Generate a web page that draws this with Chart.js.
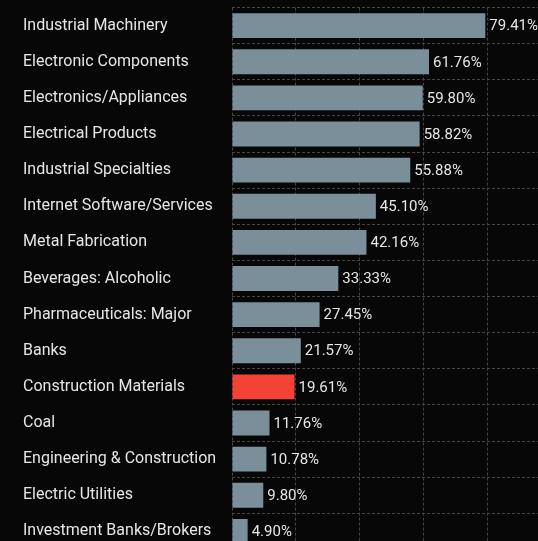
<!DOCTYPE html>
<html>
<head>
<meta charset="utf-8">
<script src="https://cdn.jsdelivr.net/npm/chart.js@4.4.1/dist/chart.umd.min.js"></script>
<style>
  html, body { margin: 0; padding: 0; background: #070707; overflow: hidden; width: 538px; height: 541px; }
  #wrap { position: absolute; left: 0; top: -2px; width: 551px; height: 561px; }
</style>
</head>
<body>
<div id="wrap"><canvas id="c" width="551" height="561"></canvas></div>
<script>
const categories = [
  "Industrial Machinery",
  "Electronic Components",
  "Electronics/Appliances",
  "Electrical Products",
  "Industrial Specialties",
  "Internet Software/Services",
  "Metal Fabrication",
  "Beverages: Alcoholic",
  "Pharmaceuticals: Major",
  "Banks",
  "Construction Materials",
  "Coal",
  "Engineering & Construction",
  "Electric Utilities",
  "Investment Banks/Brokers"
];
const values = [79.41, 61.76, 59.80, 58.82, 55.88, 45.10, 42.16, 33.33, 27.45, 21.57, 19.61, 11.76, 10.78, 9.80, 4.90];
const highlighted = ["Construction Materials"];
const xTicks = [0, 20, 40, 60, 80, 100];

const FONT = "Roboto, 'DejaVu Sans', sans-serif";
const barColors = categories.map(c => highlighted.includes(c) ? "#f44336" : "#7b8f9a");

const valueLabels = {
  id: "valueLabels",
  afterDatasetsDraw(chart) {
    const ctx = chart.ctx;
    const meta = chart.getDatasetMeta(0);
    ctx.save();
    ctx.font = "15px " + FONT;
    ctx.fillStyle = "#e6e6e6";
    ctx.textAlign = "left";
    ctx.textBaseline = "middle";
    meta.data.forEach((bar, i) => {
      ctx.fillText(values[i].toFixed(2) + "%", bar.x + 4, bar.y + 1);
    });
    ctx.restore();
  }
};

new Chart(document.getElementById("c"), {
  type: "bar",
  data: {
    labels: categories,
    datasets: [{
      data: values,
      backgroundColor: barColors,
      borderWidth: 0,
      barPercentage: 0.69,
      categoryPercentage: 1.0
    }]
  },
  options: {
    indexAxis: "y",
    responsive: false,
    animation: false,
    devicePixelRatio: 1,
    layout: { padding: { left: 23, top: 4.5, right: 0, bottom: 0 } },
    plugins: { legend: { display: false }, tooltip: { enabled: false } },
    scales: {
      x: {
        min: 0, max: 100,
        afterBuildTicks(scale) { scale.ticks = xTicks.map(v => ({ value: v })); },
        afterFit(scale) { scale.height = 0; },
        ticks: { display: false },
        grid: { color: "#454545", lineWidth: 1, tickLength: 0, drawTicks: false },
        border: { display: false, dash: [3, 2] }
      },
      y: {
        afterFit(scale) { scale.width = 209; },
        ticks: {
          crossAlign: "far",
          color: "#e6e6e6",
          font: { family: FONT, size: 16 },
          padding: 0
        },
        grid: { color: "#454545", lineWidth: 1, drawTicks: false, offset: true },
        border: { display: false, dash: [3, 2] }
      }
    }
  },
  plugins: [valueLabels]
});
</script>
</body>
</html>
